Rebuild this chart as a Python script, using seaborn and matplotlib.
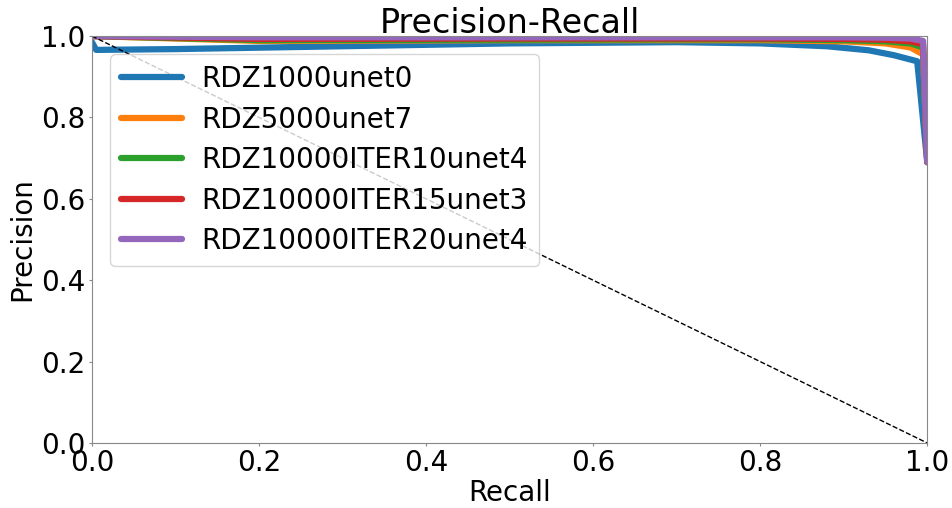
import numpy as np
import pandas as pd
import matplotlib
matplotlib.use('Agg')
import matplotlib.pyplot as plt
import seaborn as sns

# Precision-recall curves
models = ['RDZ1000unet0', 'RDZ5000unet7', 'RDZ10000ITER10unet4',
          'RDZ10000ITER15unet3', 'RDZ10000ITER20unet4']

recall_0 = [0.0, 0.005, 0.1, 0.3, 0.5, 0.7, 0.8, 0.88, 0.93, 0.96, 0.988, 1.0]
precision_0 = [0.985, 0.966, 0.968, 0.975, 0.982, 0.985, 0.982, 0.975, 0.965, 0.953, 0.938, 0.69]

recall_1 = [0.0, 0.2, 0.5, 0.8, 0.9, 0.95, 0.98, 0.995, 1.0]
precision_1 = [1.0, 0.988, 0.99, 0.99, 0.987, 0.982, 0.972, 0.955, 0.69]

recall_2 = [0.0, 0.2, 0.5, 0.8, 0.9, 0.95, 0.98, 0.995, 1.0]
precision_2 = [1.0, 0.99, 0.991, 0.992, 0.99, 0.987, 0.982, 0.972, 0.69]

recall_3 = [0.0, 0.2, 0.5, 0.8, 0.9, 0.95, 0.98, 0.995, 1.0]
precision_3 = [1.0, 0.993, 0.994, 0.994, 0.993, 0.991, 0.987, 0.98, 0.69]

recall_4 = [0.0, 0.2, 0.5, 0.8, 0.9, 0.95, 0.98, 0.995, 1.0]
precision_4 = [1.0, 0.997, 0.997, 0.997, 0.997, 0.996, 0.994, 0.988, 0.69]

recalls = [recall_0, recall_1, recall_2, recall_3, recall_4]
precisions = [precision_0, precision_1, precision_2, precision_3, precision_4]

rows = []
for name, r, p in zip(models, recalls, precisions):
    for i in range(len(r)):
        rows.append({'Model': name, 'Recall': r[i], 'Precision': p[i]})
df = pd.DataFrame(rows)

sns.set_style('white')
plt.rcParams['font.family'] = ['DejaVu Sans']
plt.rcParams['text.color'] = 'black'
plt.rcParams['axes.labelcolor'] = 'black'

fig, ax = plt.subplots(figsize=(9.52, 5.08), dpi=100)
colors = sns.color_palette('tab10', 5)

sns.lineplot(data=df, x='Recall', y='Precision', hue='Model', hue_order=models,
             palette=colors, linewidth=4.5, sort=False, estimator=None,
             units='Model', ax=ax)

ax.plot([0, 1], [1, 0], 'k--', linewidth=1)

ax.set_xlim(0, 1)
ax.set_ylim(0, 1)
ax.set_title('Precision-Recall', fontsize=24, pad=2)
ax.set_xlabel('Recall', fontsize=20, labelpad=1)
ax.set_ylabel('Precision', fontsize=20, labelpad=4)
ax.tick_params(labelsize=20, left=True, bottom=True, length=2.5, width=0.8,
               color='#888888', labelcolor='black', pad=2)
for s in ax.spines.values():
    s.set_color('#888888')

leg = ax.legend(fontsize=20, loc='upper left', bbox_to_anchor=(0.005, 0.99),
                handlelength=2.2, handletextpad=0.7, labelspacing=0.45)
for line in leg.get_lines():
    line.set_linewidth(4.5)

plt.subplots_adjust(left=0.0966, right=0.974, top=0.929, bottom=0.128)
plt.savefig('out.png', dpi=100)
